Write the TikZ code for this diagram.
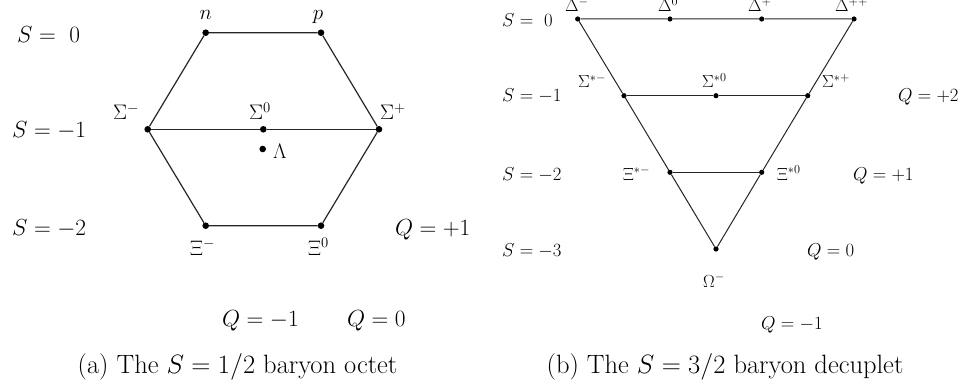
\documentclass[tikz,border=0pt]{standalone}
\usepackage{fix-cm}
\begin{document}
\begin{tikzpicture}[x=1pt,y=-1pt,
  dotA/.style={circle,fill=black,inner sep=0pt,minimum size=6.6pt},
  dotB/.style={circle,fill=black,inner sep=0pt,minimum size=5.2pt},
  edgeA/.style={line width=1.2pt,black!85},
  edgeB/.style={line width=1pt,black!85},
  lblA/.style={inner sep=0pt,anchor=base west,font=\fontsize{21}{25}\selectfont},
  axA/.style={inner sep=0pt,anchor=base west,font=\fontsize{23.3}{28}\selectfont},
  lblB/.style={inner sep=0pt,anchor=base west,font=\fontsize{17.5}{21}\selectfont},
  axB/.style={inner sep=0pt,anchor=base west,font=\fontsize{18.7}{22}\selectfont},
  capt/.style={inner sep=0pt,anchor=base,font=\fontsize{26.5}{31}\selectfont}]
\useasboundingbox (0,0) rectangle (969,385);
% ---------- octet ----------
\node[dotA] (n) at (205.7,32.7) {};
\node[dotA] (p) at (321,32.7) {};
\node[dotA] (sm) at (147.7,129.3) {};
\node[dotA] (s0) at (263.3,129.3) {};
\node[dotA] (sp) at (379,129.3) {};
\node[dotA] (lam) at (262.7,149) {};
\node[dotA] (xm) at (205.7,225.7) {};
\node[dotA] (x0) at (321,225.7) {};
\draw[edgeA] (n) -- (p) -- (sp) -- (x0) -- (xm) -- (sm) -- (n);
\draw[edgeA] (sm) -- (s0) -- (sp);
\node[lblA,anchor=base] (ln) at (205.7,20) {$n$};
\node[lblA,anchor=base] (lp) at (318,20) {$p$};
\node[lblA] (lsm) at (113,120) {$\Sigma^-$};
\node[lblA] (ls0) at (249,120) {$\Sigma^0$};
\node[lblA] (lsp) at (380,120) {$\Sigma^+$};
\node[lblA] (llam) at (273,158) {$\Lambda$};
\node[lblA] (lxm) at (190,255) {$\Xi^-$};
\node[lblA] (lx0) at (308,255) {$\Xi^0$};
\node[axA] (sa0) at (17,43) {$S=\ 0$};
\node[axA] (sa1) at (12,138) {$S=-1$};
\node[axA] (sa2) at (12,235) {$S=-2$};
\node[axA] (qa1) at (395,235) {$Q=+1$};
\node[axA] (qam) at (222,326) {$Q=-1$};
\node[axA] (qa0) at (347,326) {$Q=0$};
\node[capt] (capa) at (237.5,373) {(a) The $S=1/2$ baryon octet};
% ---------- decuplet ----------
\node[dotB] (dm) at (577.7,19) {};
\node[dotB] (d0) at (670,19) {};
\node[dotB] (dp) at (761.7,19) {};
\node[dotB] (dpp) at (854,19) {};
\node[dotB] (ssm) at (624,95.7) {};
\node[dotB] (ss0) at (716,95.7) {};
\node[dotB] (ssp) at (807.7,95.7) {};
\node[dotB] (xxm) at (670,172.3) {};
\node[dotB] (xx0) at (761.7,172.3) {};
\node[dotB] (om) at (716,249) {};
\draw[edgeB] (dm) -- (d0) -- (dp) -- (dpp) -- (ssp) -- (xx0) -- (om) -- (xxm) -- (ssm) -- (dm);
\draw[edgeB] (ssm) -- (ss0) -- (ssp);
\draw[edgeB] (xxm) -- (xx0);
\node[lblB] (ldm) at (565,11.5) {$\Delta^-$};
\node[lblB] (ld0) at (658,11.5) {$\Delta^0$};
\node[lblB] (ldp) at (748,11.5) {$\Delta^+$};
\node[lblB] (ldpp) at (835,11.5) {$\Delta^{++}$};
\node[lblB] (lssm) at (578,88) {$\Sigma^{*-}$};
\node[lblB] (lss0) at (702,88) {$\Sigma^{*0}$};
\node[lblB] (lssp) at (822,88) {$\Sigma^{*+}$};
\node[lblB] (lxxm) at (623,180) {$\Xi^{*-}$};
\node[lblB] (lxx0) at (777,180) {$\Xi^{*0}$};
\node[lblB] (lom) at (703,287) {$\Omega^-$};
\node[axB] (sb0) at (502,27) {$S=\ 0$};
\node[axB] (sb1) at (502,102) {$S=-1$};
\node[axB] (sb2) at (502,180) {$S=-2$};
\node[axB] (sb3) at (502,256) {$S=-3$};
\node[axB] (qb2) at (898,102) {$Q=+2$};
\node[axB] (qb1) at (853,180) {$Q=+1$};
\node[axB] (qb0) at (807,256) {$Q=0$};
\node[axB] (qbm) at (761,329) {$Q=-1$};
\node[capt] (capb) at (725,373) {(b) The $S=3/2$ baryon decuplet};
\end{tikzpicture}
\end{document}
